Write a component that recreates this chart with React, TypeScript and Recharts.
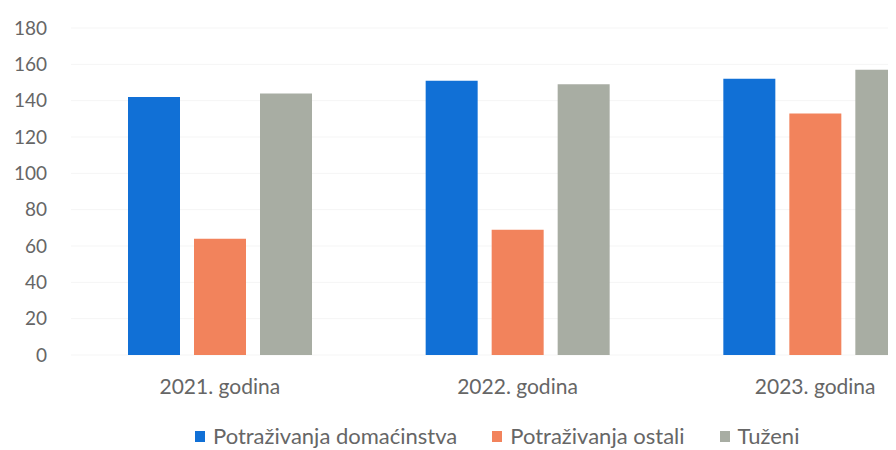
import { BarChart, Bar, XAxis, YAxis, CartesianGrid, Legend } from "recharts";

const categories = ["2021. godina", "2022. godina", "2023. godina"];
const domacinstva = [142, 151, 152];
const ostali = [64, 69, 133];
const tuzeni = [144, 149, 157];
const yTicks = [0, 20, 40, 60, 80, 100, 120, 140, 160, 180];

const data = categories.map((name, i) => ({
  name,
  domacinstva: domacinstva[i],
  ostali: ostali[i],
  tuzeni: tuzeni[i],
}));

const textColor = "#666666";
const font = "Lato, 'Open Sans', sans-serif";

function LegendContent({ payload }: any) {
  return (
    <div
      style={{
        position: "relative",
        height: 55,
        fontFamily: font,
        fontSize: 22,
        color: textColor,
      }}
    >
      <div
        style={{
          position: "absolute",
          left: 187,
          top: 28,
          display: "flex",
          gap: 35,
          lineHeight: "26px",
        }}
      >
        {(payload || []).map((p: any) => (
          <div key={p.value} style={{ display: "flex", alignItems: "center" }}>
            <span
              style={{
                display: "inline-block",
                width: 10,
                height: 11,
                background: p.color,
                marginRight: 8,
              }}
            />
            <span>{p.value}</span>
          </div>
        ))}
      </div>
    </div>
  );
}

export default function App() {
  return (
    <div style={{ width: 888, height: 442, overflow: "hidden", background: "#fff" }}>
      <BarChart
        width={960}
        height={442}
        data={data}
        margin={{ top: 20, right: 4, bottom: 0, left: 0 }}
        barSize={52}
        barGap={14}
      >
        <CartesianGrid vertical={false} stroke="#f5f5f5" />
        <XAxis
          dataKey="name"
          axisLine={false}
          tickLine={false}
          tickSize={0}
          tickMargin={24}
          height={40}
          tick={{ fill: textColor, fontSize: 21, fontFamily: font }}
        />
        <YAxis
          domain={[0, 180]}
          ticks={yTicks}
          axisLine={false}
          tickLine={false}
          tickSize={0}
          tickMargin={24}
          width={63}
          tick={{ fill: textColor, fontSize: 19, fontFamily: font }}
        />
        <Legend verticalAlign="bottom" height={55} content={<LegendContent />} />
        <Bar dataKey="domacinstva" name="Potraživanja domaćinstva" fill="#1170d6" isAnimationActive={false} />
        <Bar dataKey="ostali" name="Potraživanja ostali" fill="#f2835c" isAnimationActive={false} />
        <Bar dataKey="tuzeni" name="Tuženi" fill="#a8ada3" isAnimationActive={false} />
      </BarChart>
    </div>
  );
}
